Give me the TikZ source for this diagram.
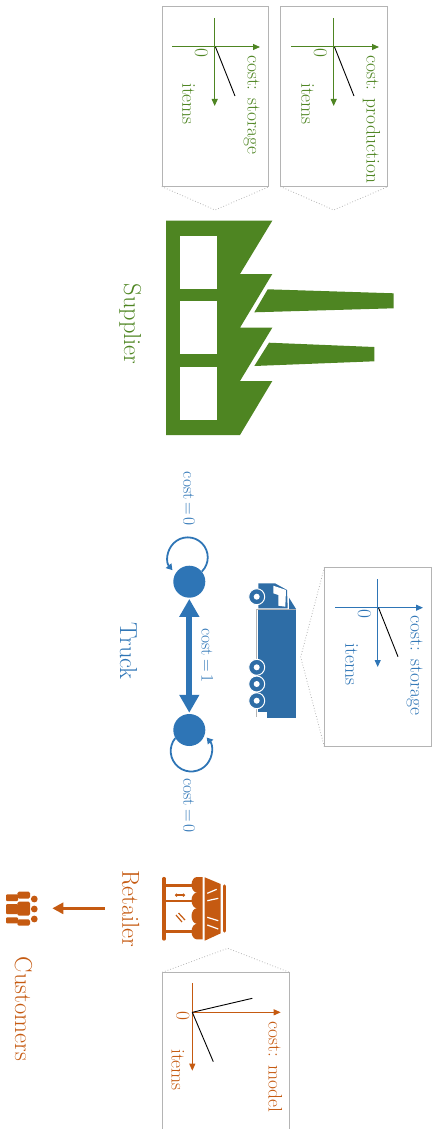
\documentclass[tikz,border=0pt]{standalone}
\usetikzlibrary{arrows.meta}
\definecolor{vert}{HTML}{4E8522}
\definecolor{bleu}{HTML}{2E75B6}
\definecolor{bleucamion}{HTML}{2E6DA6}
\definecolor{orange}{HTML}{C55A11}
\definecolor{gris}{HTML}{B4B4B4}
\begin{document}
\begin{tikzpicture}[x=1pt,y=1pt]
	% Styles
	\tikzstyle{axe}=[line width=1pt]
	\tikzstyle{fleche}=[-{Triangle[length=7pt,width=6pt]},line width=1pt]
	\tikzstyle{courbe}=[black,line width=0.9pt]
	\tikzstyle{boite}=[draw=gris,line width=1pt,fill=white,inner sep=0pt]
	\tikzstyle{pointe}=[gris,dotted,line width=0.8pt]
	\tikzstyle{etiquette}=[rotate=-90,anchor=base west,inner sep=0pt,font=\fontsize{19.5}{19.5}\selectfont]
	\tikzstyle{cout}=[rotate=-90,anchor=base west,inner sep=0pt,font=\fontsize{17.5}{17.5}\selectfont]
	\tikzstyle{titre}=[rotate=-90,anchor=base west,inner sep=0pt,font=\fontsize{24.5}{24.5}\selectfont]
	\tikzstyle{etat}=[circle,fill=bleu,inner sep=0pt,minimum size=32pt]
	\tikzstyle{boucle}=[bleu,line width=1.8pt,-{Triangle[length=6pt,width=7pt]}]
	\tikzstyle{roue}=[circle,fill=bleucamion,draw=white,line width=1pt,inner sep=0pt,minimum size=16pt]
	\tikzstyle{moyeu}=[circle,fill=white,inner sep=0pt,minimum size=6pt]
	\useasboundingbox (0,0) rectangle (433,-1129);
	% Boite : cost production
	\node[boite,minimum width=106.7pt,minimum height=179.3pt] (BoiteP) at (334.3,-96.4) {};
	\coordinate (PointeP) at (333.7,-210);
	\draw[pointe] (BoiteP.south west)--(PointeP)--(BoiteP.south east);
	\coordinate (PgA) at (291,-47);
	\coordinate (PdA) at (379,-47);
	\coordinate (PhA) at (333.7,-18);
	\coordinate (PbA) at (333.7,-106);
	\coordinate (PoA) at (334.5,-47);
	\coordinate (PcA) at (354,-96);
	\draw[fleche,vert] (PgA)--(PdA);
	\draw[fleche,vert] (PhA)--(PbA);
	\draw[courbe] (PoA)--(PcA);
	\node[etiquette,vert] (ZeroP) at (314,-48.3) {0};
	\node[etiquette,vert] (ItemsP) at (301.3,-83) {items};
	\node[etiquette,vert] (CoutP) at (366.7,-55) {cost: production};
	% Boite : cost storage (supplier)
	\node[boite,minimum width=106.7pt,minimum height=179.3pt] (BoiteS) at (215.6,-96.4) {};
	\coordinate (PointeS) at (215,-210);
	\draw[pointe] (BoiteS.south west)--(PointeS)--(BoiteS.south east);
	\coordinate (SgA) at (172,-47);
	\coordinate (SdA) at (260,-47);
	\coordinate (ShA) at (214.7,-18);
	\coordinate (SbA) at (214.7,-106);
	\coordinate (SoA) at (215.5,-47);
	\coordinate (ScA) at (235,-96);
	\draw[fleche,vert] (SgA)--(SdA);
	\draw[fleche,vert] (ShA)--(SbA);
	\draw[courbe] (SoA)--(ScA);
	\node[etiquette,vert] (ZeroS) at (195,-48.3) {0};
	\node[etiquette,vert] (ItemsS) at (182.3,-83) {items};
	\node[etiquette,vert] (CoutS) at (247.7,-55) {cost: storage};
	% Usine
	\fill[vert] (166,-220.7)--(272.3,-220.7)--(240,-274)--(272.3,-274)--(240,-327.7)--(272.3,-327.7)--(240,-381)--(272.3,-381)--(240,-435)--(166,-435)--cycle;
	\fill[white] (180,-235.7) rectangle (216.7,-289);
	\fill[white] (180,-301.3) rectangle (216.7,-354.3);
	\fill[white] (180,-366.7) rectangle (216.7,-420);
	\fill[vert] (267.7,-289.3)--(393.7,-293.3)--(393.7,-308.3)--(254.3,-312.3)--cycle;
	\fill[vert] (269,-342.7)--(374.3,-347)--(374.3,-361.3)--(254.3,-366)--cycle;
	\node[titre,vert] (Supplier) at (124,-283.3) {Supplier};
	% Camion
	\fill[bleucamion] (258.3,-609.3) rectangle (296,-717.7);
	\fill[white] (258.3,-711.7) rectangle (266.7,-717.7);
	\draw[gris,line width=0.8pt] (256,-609.3)--(256,-717);
	\draw[gris,line width=0.8pt] (256,-609.3)--(296,-609.3);
	\fill[bleucamion] (258.3,-583.3)--(275,-583.3)--(287,-590)--(287.7,-608.3)--(258.3,-608.3)--cycle;
	\fill[white] (273.3,-585.7)--(286,-590)--(285.3,-606.7)--(278.3,-605.7)--(278.3,-595)--(273.3,-593.3)--cycle;
	\fill[bleucamion] (289,-597.7)--(296,-609)--(289,-609)--cycle;
	\node[roue] (RoueA) at (256.7,-596.7) {};
	\node[roue] (RoueB) at (256.7,-667.3) {};
	\node[roue] (RoueC) at (256.7,-684) {};
	\node[roue] (RoueD) at (256.7,-700.7) {};
	\node[moyeu] (MoyeuA) at (RoueA) {};
	\node[moyeu] (MoyeuB) at (RoueB) {};
	\node[moyeu] (MoyeuC) at (RoueC) {};
	\node[moyeu] (MoyeuD) at (RoueD) {};
	% Boite : cost storage (truck)
	\node[boite,minimum width=106.7pt,minimum height=179pt] (BoiteT) at (378.3,-657.2) {};
	\coordinate (PointeT) at (300.7,-657);
	\draw[pointe] (BoiteT.north west)--(PointeT)--(BoiteT.south west);
	\coordinate (TgA) at (335,-607.7);
	\coordinate (TdA) at (423,-607.7);
	\coordinate (ThA) at (377.7,-579);
	\coordinate (TbA) at (377.7,-667);
	\coordinate (ToA) at (378.5,-607.7);
	\coordinate (TcA) at (398,-656.7);
	\draw[fleche,bleu] (TgA)--(TdA);
	\draw[fleche,bleu] (ThA)--(TbA);
	\draw[courbe] (ToA)--(TcA);
	\node[etiquette,bleu] (ZeroT) at (358,-609) {0};
	\node[etiquette,bleu] (ItemsT) at (345.3,-643.7) {items};
	\node[etiquette,bleu] (CoutT) at (410.7,-615.7) {cost: storage};
	% Etats du camion
	\node[etat] (EtatA) at (189.3,-581.7) {};
	\node[etat] (EtatB) at (189.3,-730) {};
	\draw[boucle] (EtatA.39) arc[start angle=-45,end angle=220,radius=20];
	\draw[boucle] (EtatB.210) arc[start angle=141,end angle=401,radius=20.5];
	\draw[{Triangle[length=18pt,width=19pt]}-{Triangle[length=18pt,width=19pt]},bleu,line width=6pt,shorten <=1pt,shorten >=1pt] (EtatA)--(EtatB);
	\node[cout,bleu] (CoutZeroA) at (183.3,-471.7) {cost\,=\,0};
	\node[cout,bleu] (CoutUn) at (201.7,-628.3) {cost\,=\,1};
	\node[cout,bleu] (CoutZeroB) at (183.3,-778.3) {cost\,=\,0};
	\node[titre,bleu] (Truck) at (120,-622.7) {Truck};
	% Magasin
	\draw[orange,line width=3.2pt,line cap=round] (164,-878.5)--(164,-939);
	\fill[orange] (164,-884) rectangle (197,-887.3);
	\fill[orange] (164,-930) rectangle (197,-933.3);
	\fill[orange] (165,-900) rectangle (197,-902.3);
	\fill[orange] (202.7,-877) -- (197,-877) arc[start angle=90,end angle=270,x radius=5.5,y radius=7.8] arc[start angle=90,end angle=270,x radius=5.5,y radius=7.8] arc[start angle=90,end angle=270,x radius=5.5,y radius=7.8] arc[start angle=90,end angle=270,x radius=5.5,y radius=7.8] -- (202.7,-939.4) --cycle;
	\fill[orange] (204.7,-877.3)--(220.7,-884)--(220.7,-933.3)--(204.7,-940.7)--cycle;
	\draw[white,line width=1.2pt] (207.3,-893.3)--(216.7,-889.3);
	\draw[white,line width=1.2pt] (207.3,-900.7)--(218.3,-898.3);
	\draw[white,line width=1.2pt] (207.3,-917.3)--(218.3,-920.7);
	\draw[white,line width=1.2pt] (207.3,-925)--(218.3,-929);
	\draw[orange,line width=3.2pt,line cap=round] (224.3,-886)--(224.3,-931);
	\draw[orange,line width=1.2pt,{Circle[length=3pt]}-{Circle[length=3pt]}] (175,-895)--(185,-895);
	\draw[orange,line width=1.2pt] (176,-915)--(182,-922);
	\draw[orange,line width=1.2pt] (178.5,-913)--(185,-920);
	\node[titre,orange] (Retailer) at (122.3,-870) {Retailer};
	% Fleche vers les clients
	\coordinate (DepartClients) at (104.7,-908.3);
	\coordinate (ArriveeClients) at (52.3,-908.3);
	\draw[-{Triangle[length=11pt,width=11pt]},orange,line width=3.5pt] (DepartClients)--(ArriveeClients);
	% Clients
	\fill[orange,rounded corners=1pt] (6,-894.3) rectangle (18,-901);
	\fill[orange,rounded corners=1.5pt] (17.3,-891.7) rectangle (30,-898.5);
	\fill[orange,rounded corners=1pt] (6,-904) rectangle (18,-914);
	\fill[orange,rounded corners=1.5pt] (17.3,-901.7) rectangle (30,-915.7);
	\fill[orange,rounded corners=1pt] (6,-917.3) rectangle (18,-923.3);
	\fill[orange,rounded corners=1.5pt] (17.3,-919.3) rectangle (30,-925.7);
	\fill[orange] (34.3,-899) circle (3.4);
	\fill[orange] (34.3,-909) circle (3.4);
	\fill[orange] (34.3,-919) circle (3.4);
	\node[titre,orange] (Customers) at (15,-956.7) {Customers};
	% Boite : cost model
	\coordinate (BoiteRa) at (162.3,-1129);
	\coordinate (BoiteRb) at (162.3,-972.3);
	\coordinate (BoiteRc) at (289.3,-972.3);
	\coordinate (BoiteRd) at (289.3,-1129);
	\coordinate (PointeR) at (227.7,-948.3);
	\draw[gris,line width=1pt] (BoiteRa)--(BoiteRb)--(BoiteRc)--(BoiteRd);
	\draw[pointe] (BoiteRb)--(PointeR)--(BoiteRc);
	\coordinate (RoA) at (192.3,-1012.3);
	\coordinate (RdA) at (280.7,-1012.3);
	\coordinate (RhA) at (192.3,-983.3);
	\coordinate (RbA) at (192.3,-1070.7);
	\coordinate (RcA) at (252.3,-998.3);
	\coordinate (RcB) at (213.3,-1061.7);
	\draw[fleche,orange] (RoA)--(RdA);
	\draw[fleche,orange] (RhA)--(RbA);
	\draw[courbe] (RoA)--(RcA);
	\draw[courbe] (RoA)--(RcB);
	\node[etiquette,orange] (ZeroR) at (176.7,-1011.7) {0};
	\node[etiquette,orange] (ItemsR) at (171.7,-1049) {items};
	\node[etiquette,orange] (CoutR) at (268.7,-1021.7) {cost: model};
\end{tikzpicture}
\end{document}
